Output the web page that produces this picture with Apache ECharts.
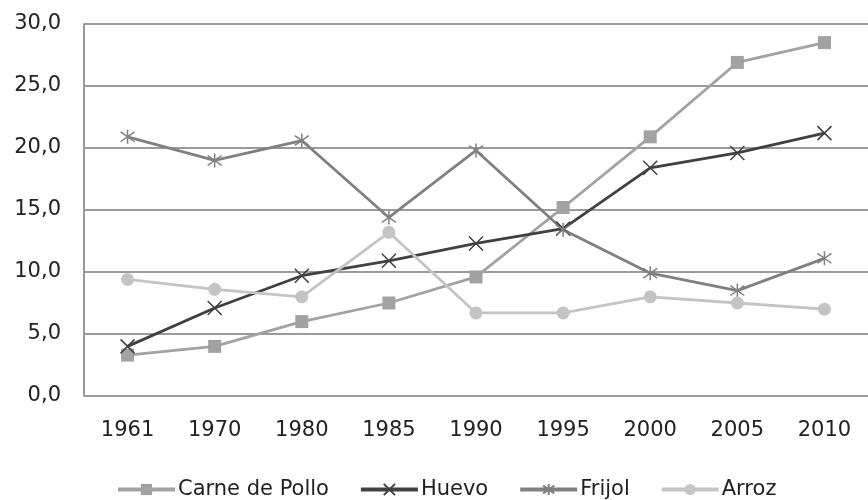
<!DOCTYPE html>
<html>
<head>
<meta charset="utf-8">
<script src="https://cdn.jsdelivr.net/npm/echarts@6/dist/echarts.min.js"></script>
<style>
  html, body { margin: 0; padding: 0; background: #fff; }
  #chart { width: 868px; height: 500px; }
</style>
</head>
<body>
<div id="chart"></div>
<script>
const years = ["1961", "1970", "1980", "1985", "1990", "1995", "2000", "2005", "2010"];
const carnePollo = [3.3, 4.0, 6.0, 7.5, 9.6, 15.2, 20.9, 26.9, 28.5];
const huevo = [4.0, 7.1, 9.7, 10.9, 12.3, 13.5, 18.4, 19.6, 21.2];
const frijol = [20.9, 19.0, 20.6, 14.4, 19.8, 13.4, 9.9, 8.5, 11.1];
const arroz = [9.4, 8.6, 8.0, 13.2, 6.7, 6.7, 8.0, 7.5, 7.0];

const crossPath = "path://M0,0L10,10M10,0L0,10";
const starPath = "path://M0,1.5L10,8.5M10,1.5L0,8.5M5,0L5,10";

function serie(name, data, color, symbol, size, stroke) {
  return {
    name: name,
    type: "line",
    data: data,
    symbol: symbol,
    symbolSize: size,
    lineStyle: { color: color, width: 2.8 },
    itemStyle: stroke
      ? { color: color, borderColor: color, borderWidth: 1.5 }
      : { color: color },
  };
}

const chart = echarts.init(document.getElementById("chart"));
chart.setOption({
  animation: false,
  textStyle: { fontFamily: "DejaVu Sans" },
  grid: { left: 84, top: 24, width: 793, height: 372 },
  legend: {
    top: 479,
    left: 116,
    padding: 0,
    itemWidth: 57,
    itemHeight: 14,
    itemGap: 30,
    lineStyle: { width: 4 },
    textStyle: { fontSize: 21, color: "#222", padding: [0, 0, 0, -2] },
    data: ["Carne de Pollo", "Huevo", "Frijol", "Arroz"],
  },
  xAxis: {
    type: "category",
    data: years,
    boundaryGap: true,
    axisLine: { show: false },
    axisTick: { show: false },
    axisLabel: { fontSize: 21, color: "#222", margin: 24 },
  },
  yAxis: {
    type: "value",
    min: 0,
    max: 30,
    interval: 5,
    axisLine: { show: true, lineStyle: { color: "#9a9a9a", width: 2 } },
    axisTick: { show: false },
    splitLine: { lineStyle: { color: "#9a9a9a", width: 2 } },
    axisLabel: {
      fontSize: 21,
      color: "#222",
      margin: 23,
      formatter: (v) => v.toFixed(1).replace(".", ","),
    },
  },
  series: [
    serie("Carne de Pollo", carnePollo, "#a2a2a2", "rect", 13, false),
    serie("Huevo", huevo, "#404040", crossPath, 14, true),
    serie("Frijol", frijol, "#808080", starPath, 14, true),
    serie("Arroz", arroz, "#c4c4c4", "circle", 13, false),
  ],
});
</script>
</body>
</html>
